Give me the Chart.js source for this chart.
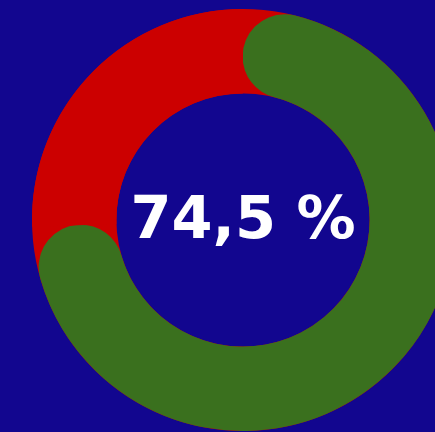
<!DOCTYPE html>
<html>
<head>
<meta charset="utf-8">
<script src="https://cdn.jsdelivr.net/npm/chart.js@4"></script>
<style>
  html, body { margin: 0; padding: 0; background: #12068f; overflow: hidden; }
  #wrap { width: 486px; height: 432px; }
</style>
</head>
<body>
<div id="wrap"><canvas id="gauge"></canvas></div>
<script>
// gauge data
const labels = ['Erreicht', 'Offen'];
const values = [74.5, 25.5];
const colors = ['#3a701e', '#cc0000'];
const centerText = '74,5 %';

// red ring behind so the rounded green ends sit on red
const ringBack = {
  id: 'ringBack',
  beforeDatasetsDraw(chart) {
    const arc = chart.getDatasetMeta(0).data[0];
    if (!arc) return;
    const { x, y, innerRadius, outerRadius } = arc.getProps(['x', 'y', 'innerRadius', 'outerRadius'], true);
    const c = chart.ctx;
    c.save();
    c.beginPath();
    c.arc(x, y, outerRadius, 0, Math.PI * 2);
    c.arc(x, y, innerRadius, Math.PI * 2, 0, true);
    c.closePath();
    c.fillStyle = colors[1];
    c.fill();
    c.restore();
  }
};

const centerLabel = {
  id: 'centerLabel',
  afterDatasetsDraw(chart) {
    const arc = chart.getDatasetMeta(0).data[0];
    const c = chart.ctx;
    c.save();
    c.fillStyle = '#ffffff';
    c.font = 'bold 59px "DejaVu Sans"';
    c.textAlign = 'center';
    c.textBaseline = 'alphabetic';
    c.fillText(centerText, arc.x, arc.y + 18);
    c.restore();
  }
};

new Chart(document.getElementById('gauge'), {
  type: 'doughnut',
  data: {
    labels: labels,
    datasets: [{
      data: values,
      backgroundColor: colors,
      borderWidth: 0,
      borderRadius: (ctx) => ctx.dataIndex === 0 ? 60 : 0
    }]
  },
  options: {
    responsive: true,
    maintainAspectRatio: false,
    animation: false,
    cutout: '60%',
    layout: { padding: { top: 9, bottom: 1, left: 0, right: 0 } },
    plugins: {
      legend: { display: false },
      tooltip: { enabled: false }
    }
  },
  plugins: [ringBack, centerLabel]
});
</script>
</body>
</html>
